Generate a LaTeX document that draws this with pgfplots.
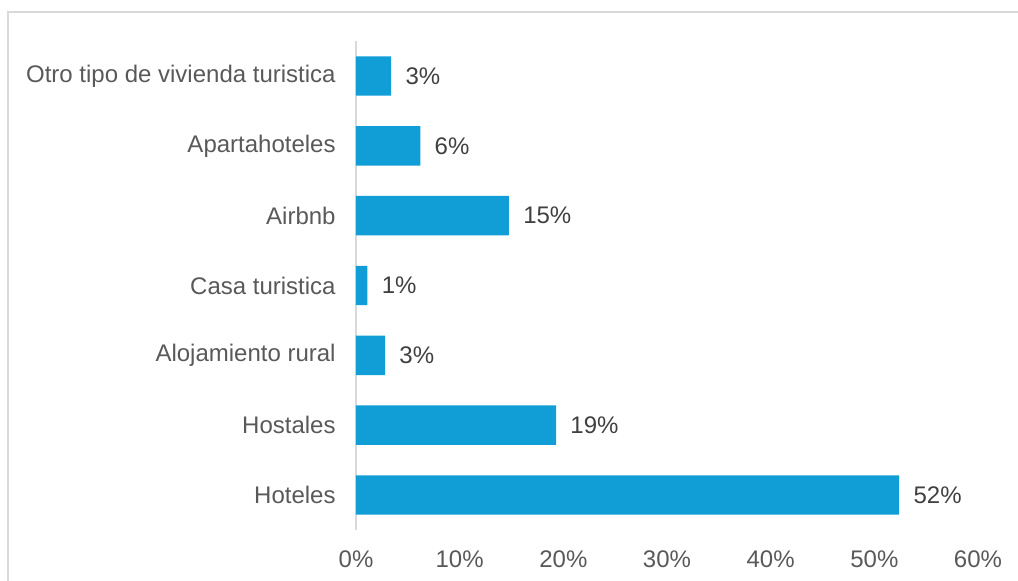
\documentclass[border=0pt]{standalone}
\usepackage{pgfplots}
\pgfplotsset{compat=1.18}
\usepackage{fontspec}
\setmainfont{Liberation Sans}

\definecolor{barblue}{RGB}{17,158,214}
\definecolor{axisgray}{RGB}{217,217,217}
\definecolor{labelgray}{RGB}{89,89,89}
\definecolor{datagray}{RGB}{64,64,64}

% 1 px of the reference = 0.5pt; data origin (0,0) sits at px (356,495)
\begin{document}
\fontsize{12pt}{14pt}\selectfont
\begin{tikzpicture}
\path[use as bounding box, clip] (0,0) rectangle (509pt,290pt);
\draw[axisgray, line width=0.8pt] (4pt,-20pt) rectangle (530pt,284pt);
\begin{axis}[
  at={(178pt,42.5pt)}, anchor=origin,
  scale only axis,
  width=311pt, height=244.4pt,
  xbar, bar width=19.7pt,
  xmin=0, xmax=60,
  ymin=-0.5, ymax=6.5,
  axis x line=none,
  axis y line*=left,
  y axis line style={axisgray, line width=0.8pt, -},
  ytick={0,...,6},
  yticklabels={Hoteles, Hostales, Alojamiento rural, Casa turistica, Airbnb, Apartahoteles, Otro tipo de vivienda turistica},
  major tick length=0pt,
  yticklabel style={text=labelgray, font=\fontsize{12pt}{14pt}\selectfont, xshift=-6pt},
  /pgf/number format/assume math mode=true,
  nodes near coords={\pgfmathprintnumber[fixed,precision=0]{\pgfplotspointmeta}\%},
  point meta=x,
  nodes near coords style={text=datagray, font=\fontsize{12pt}{14pt}\selectfont, xshift=3pt},
  clip=false,
]
\addplot[fill=barblue, draw=none] coordinates {
  (52.4,0) (19.3,1) (2.8,2) (1.1,3) (14.75,4) (6.2,5) (3.4,6)
};
\end{axis}
% x tick labels drawn through a second axis sharing the same scale
\begin{axis}[
  at={(178pt,42.5pt)}, anchor=origin,
  scale only axis,
  width=311pt, height=244.4pt,
  xmin=0, xmax=60, ymin=-0.5, ymax=6.5,
  axis x line*=bottom, axis y line=none,
  x axis line style={draw=none},
  xtick={0,10,...,60},
  major tick length=0pt,
  /pgf/number format/assume math mode=true,
  xticklabel={\pgfmathprintnumber{\tick}\%},
  xticklabel style={text=labelgray, font=\fontsize{12pt}{14pt}\selectfont, yshift=-6pt},
]
\end{axis}
\end{tikzpicture}
\end{document}
